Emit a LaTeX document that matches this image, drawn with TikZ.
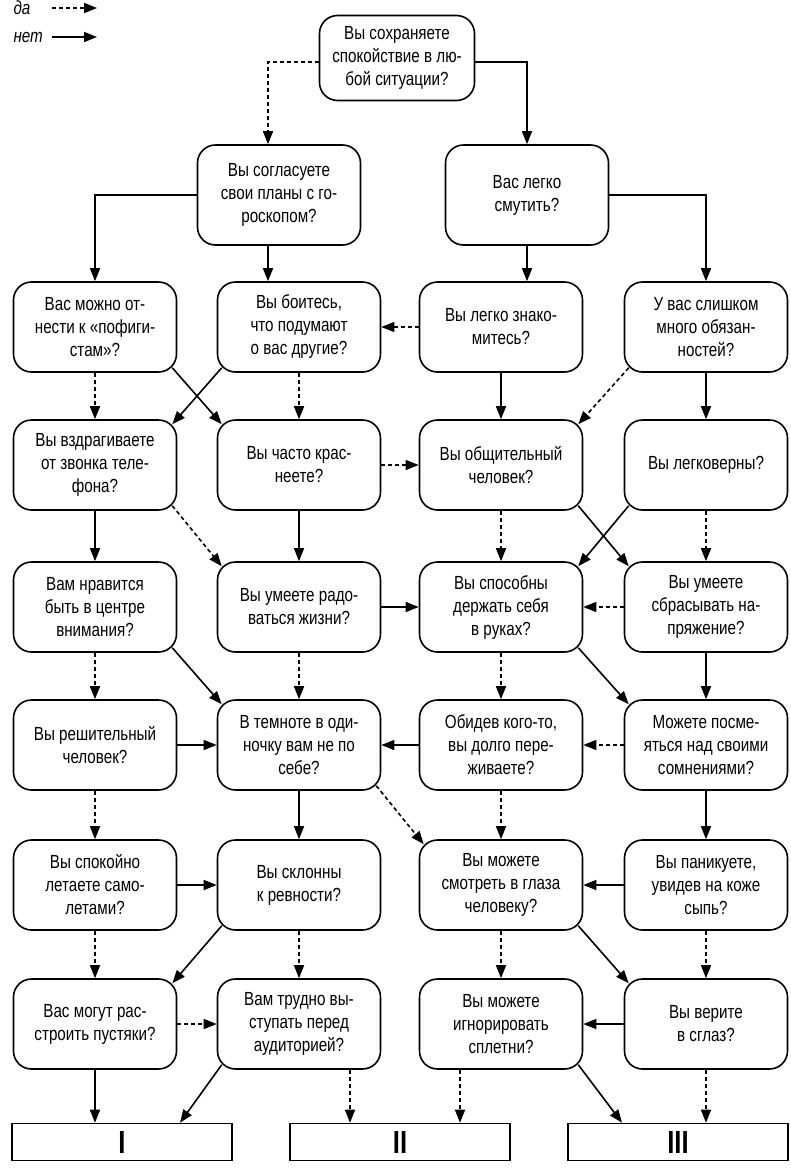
\documentclass[tikz,border=0pt]{standalone}
\usepackage{fontspec}
\setmainfont{Liberation Sans}[FakeStretch=0.8]
\usetikzlibrary{calc,arrows.meta}
\begin{document}
\begin{tikzpicture}[x=1pt,y=-1pt,
  q/.style={draw,line width=1.6pt,rounded corners=18pt,minimum width=163pt,minimum height=90pt,align=center,font=\fontsize{19}{23}\selectfont,inner sep=0pt},
  res/.style={draw,line width=1.6pt,minimum width=220pt,minimum height=37pt,font=\fontsize{32}{32}\selectfont\bfseries,inner sep=0pt},
  no/.style={line width=1.6pt,-{Triangle[length=13pt,width=10pt]}},
  yes/.style={line width=1.6pt,dash pattern=on 4pt off 3pt,-{Triangle[length=13pt,width=10pt]}}]
\useasboundingbox (0,0) rectangle (790,1172);
% legend
\node[anchor=west,font=\fontsize{19}{20}\selectfont\itshape] (lda) at (10,8) {да};
\node[anchor=west,font=\fontsize{19}{20}\selectfont\itshape] (lnet) at (10,37) {нет};
\coordinate (lda1) at (52,8); \coordinate (lda2) at (97,8);
\coordinate (ln1) at (52,37); \coordinate (ln2) at (97,37);
\draw[yes] (lda1) -- (lda2);
\draw[no] (ln1) -- (ln2);
% nodes
\node[q,minimum width=155pt,minimum height=85pt] (t) at (397,58) {Вы сохраняете\\спокойствие в лю-\\бой ситуации?};
\node[q,minimum height=100pt] (a) at (279,195) {Вы согласуете\\свои планы с го-\\роскопом?};
\node[q,minimum height=100pt] (b) at (527,195) {Вас легко\\смутить?};
\node[q] (r21) at (95,327) {Вас можно от-\\нести к «пофиги-\\стам»?};
\node[q] (r22) at (299,327) {Вы боитесь,\\что подумают\\о вас другие?};
\node[q] (r23) at (501,327) {Вы легко знако-\\митесь?};
\node[q] (r24) at (706,327) {У вас слишком\\много обязан-\\ностей?};
\node[q] (r31) at (95,465) {Вы вздрагиваете\\от звонка теле-\\фона?};
\node[q] (r32) at (299,465) {Вы часто крас-\\неете?};
\node[q] (r33) at (501,465) {Вы общительный\\человек?};
\node[q] (r34) at (706,465) {Вы легковерны?};
\node[q] (r41) at (95,607) {Вам нравится\\быть в центре\\внимания?};
\node[q] (r42) at (299,607) {Вы умеете радо-\\ваться жизни?};
\node[q] (r43) at (501,607) {Вы способны\\держать себя\\в руках?};
\node[q] (r44) at (706,607) {Вы умеете\\сбрасывать на-\\пряжение?};
\node[q] (r51) at (95,745) {Вы решительный\\человек?};
\node[q] (r52) at (299,745) {В темноте в оди-\\ночку вам не по\\себе?};
\node[q] (r53) at (501,745) {Обидев кого-то,\\вы долго пере-\\живаете?};
\node[q] (r54) at (706,745) {Можете посме-\\яться над своими\\сомнениями?};
\node[q] (r61) at (95,885) {Вы спокойно\\летаете само-\\летами?};
\node[q] (r62) at (299,885) {Вы склонны\\к ревности?};
\node[q] (r63) at (501,885) {Вы можете\\смотреть в глаза\\человеку?};
\node[q] (r64) at (706,885) {Вы паникуете,\\увидев на коже\\сыпь?};
\node[q] (r71) at (95,1024) {Вас могут рас-\\строить пустяки?};
\node[q] (r72) at (299,1024) {Вам трудно вы-\\ступать перед\\аудиторией?};
\node[q] (r73) at (501,1024) {Вы можете\\игнорировать\\сплетни?};
\node[q] (r74) at (706,1024) {Вы верите\\в сглаз?};
\node[res] (I) at (122,1142) {I};
\node[res] (II) at (400,1142) {II};
\node[res] (III) at (678,1142) {III};
% connectors
\newcommand{\dg}[3]{\draw[#1] ($(#2.south east)+(-5,-5)$) -- ($(#3.north west)+(5,5)$);}
\newcommand{\dgl}[3]{\draw[#1] ($(#2.south west)+(5,-5)$) -- ($(#3.north east)+(-5,5)$);}
\draw[yes] (t.west |- 0,62) -| (a.north -| 268,0);
\draw[no] (t.east |- 0,62) -| (b.north -| 527,0);
\draw[no] (a.west) -| (r21.north);
\draw[no] (a.south -| 268,0) -- (r22.north -| 268,0);
\draw[no] (b.south) -- (r23.north -| 527,0);
\draw[no] (b.east) -| (r24.north);
\draw[yes] (r23) -- (r22);
\draw[no] (r23) -- (r33);
\dgl{yes}{r24}{r33}
\draw[no] (r24) -- (r34);
\draw[yes] (r21) -- (r31);
\dg{no}{r21}{r32}
\dgl{no}{r22}{r31}
\draw[yes] (r22) -- (r32);
\draw[no] (r31) -- (r41);
\dg{yes}{r31}{r42}
\draw[yes] (r32) -- (r33);
\draw[no] (r32) -- (r42);
\draw[yes] (r33) -- (r43);
\dg{no}{r33}{r44}
\dgl{no}{r34}{r43}
\draw[yes] (r34) -- (r44);
\draw[yes] (r41) -- (r51);
\dg{no}{r41}{r52}
\draw[no] (r42) -- (r43);
\draw[yes] (r42) -- (r52);
\draw[yes] (r44) -- (r43);
\draw[no] (r44) -- (r54);
\draw[yes] (r43) -- (r53);
\dg{no}{r43}{r54}
\draw[no] (r51) -- (r52);
\draw[no] (r53) -- (r52);
\draw[yes] (r53) -- (r63);
\draw[yes] (r54) -- (r53);
\draw[no] (r54) -- (r64);
\draw[no] (r52) -- (r62);
\dg{yes}{r52}{r63}
\draw[yes] (r51) -- (r61);
\draw[no] (r61) -- (r62);
\draw[yes] (r61) -- (r71);
\dgl{no}{r62}{r71}
\draw[yes] (r62) -- (r72);
\draw[no] (r64) -- (r63);
\draw[yes] (r64) -- (r74);
\draw[yes] (r63) -- (r73);
\dg{no}{r63}{r74}
\draw[yes] (r71) -- (r72);
\draw[no] (r71) -- (r71 |- I.north);
\draw[no] ($(r72.south west)+(5,-5)$) -- (I.north -| 180,0);
\draw[yes] (r72.south -| 350,0) -- (II.north -| 350,0);
\draw[yes] (r73.south -| 460,0) -- (II.north -| 460,0);
\draw[no] (r74) -- (r73);
\draw[yes] (r74) -- (r74 |- III.north);
\draw[no] ($(r73.south east)+(-5,-5)$) -- (III.north -| 622,0);
\end{tikzpicture}
\end{document}
